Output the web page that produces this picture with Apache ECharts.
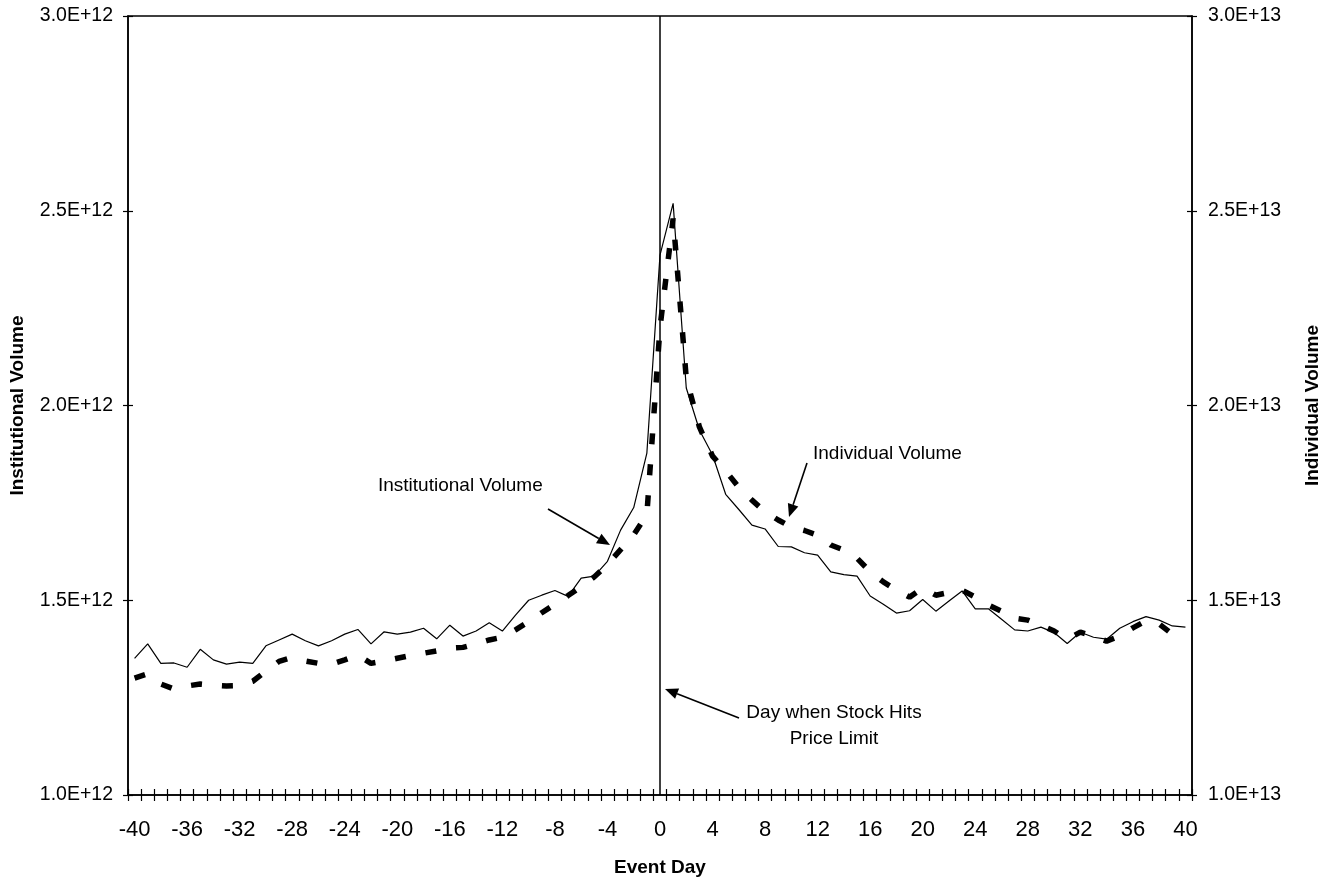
<!DOCTYPE html>
<html>
<head>
<meta charset="utf-8">
<script src="https://cdn.jsdelivr.net/npm/echarts@6/dist/echarts.min.js"></script>
<style>
html,body{margin:0;padding:0;background:#fff;}
#chart{width:1330px;height:884px;}
</style>
</head>
<body>
<div id="chart"></div>
<script>
var eventDays = ['-40','-39','-38','-37','-36','-35','-34','-33','-32','-31','-30','-29','-28','-27','-26','-25','-24','-23','-22','-21','-20','-19','-18','-17','-16','-15','-14','-13','-12','-11','-10','-9','-8','-7','-6','-5','-4','-3','-2','-1','0','1','2','3','4','5','6','7','8','9','10','11','12','13','14','15','16','17','18','19','20','21','22','23','24','25','26','27','28','29','30','31','32','33','34','35','36','37','38','39','40'];

var institutionalVolume = [
1.351e12,1.388e12,1.338e12,1.339e12,1.328e12,1.374e12,1.347e12,1.336e12,1.341e12,1.338e12,
1.383e12,1.398e12,1.413e12,1.396e12,1.383e12,1.396e12,1.413e12,1.425e12,1.388e12,1.419e12,
1.413e12,1.418e12,1.428e12,1.401e12,1.436e12,1.408e12,1.421e12,1.442e12,1.421e12,1.462e12,
1.500e12,1.513e12,1.525e12,1.510e12,1.557e12,1.562e12,1.600e12,1.680e12,1.738e12,1.878e12,
2.386e12,2.519e12,2.045e12,1.937e12,1.873e12,1.772e12,1.733e12,1.693e12,1.683e12,1.638e12,
1.637e12,1.622e12,1.616e12,1.573e12,1.566e12,1.562e12,1.511e12,1.490e12,1.467e12,1.473e12,
1.502e12,1.472e12,1.498e12,1.524e12,1.478e12,1.478e12,1.451e12,1.424e12,1.421e12,1.431e12,
1.417e12,1.389e12,1.418e12,1.405e12,1.400e12,1.428e12,1.445e12,1.458e12,1.449e12,1.434e12,
1.431e12];

var individualVolume = [
1.300e13,1.311e13,1.285e13,1.272e13,1.280e13,1.285e13,1.282e13,1.280e13,1.281e13,1.292e13,
1.318e13,1.343e13,1.353e13,1.344e13,1.338e13,1.336e13,1.347e13,1.359e13,1.338e13,1.344e13,
1.351e13,1.358e13,1.364e13,1.370e13,1.377e13,1.379e13,1.388e13,1.398e13,1.405e13,1.424e13,
1.445e13,1.468e13,1.490e13,1.512e13,1.535e13,1.560e13,1.592e13,1.630e13,1.668e13,1.720e13,
2.200e13,2.480e13,2.070e13,1.945e13,1.870e13,1.832e13,1.790e13,1.757e13,1.727e13,1.706e13,
1.688e13,1.679e13,1.667e13,1.642e13,1.629e13,1.608e13,1.573e13,1.547e13,1.526e13,1.508e13,
1.531e13,1.513e13,1.520e13,1.526e13,1.508e13,1.488e13,1.472e13,1.454e13,1.449e13,1.436e13,
1.421e13,1.400e13,1.418e13,1.408e13,1.395e13,1.408e13,1.429e13,1.447e13,1.439e13,1.413e13,
1.408e13];

var leftAxisMin = 1.0e12, leftAxisMax = 3.0e12, leftAxisStep = 0.5e12;
var rightAxisMin = 1.0e13, rightAxisMax = 3.0e13, rightAxisStep = 0.5e13;
var limitDay = '0';

var FONT = "'Liberation Sans', Arial, sans-serif";

function arrow(x1, y1, x2, y2) {
  var dx = x2 - x1, dy = y2 - y1, len = Math.sqrt(dx*dx + dy*dy);
  var ux = dx/len, uy = dy/len, hl = 13, hw = 5.5;
  var bx = x2 - ux*hl, by = y2 - uy*hl;
  return [
    {type:'line', shape:{x1:x1,y1:y1,x2:bx,y2:by}, style:{stroke:'#000', lineWidth:1.6}, silent:true},
    {type:'polygon', shape:{points:[[x2,y2],[bx - uy*hw, by + ux*hw],[bx + uy*hw, by - ux*hw]]}, style:{fill:'#000'}, silent:true}
  ];
}

var chart = echarts.init(document.getElementById('chart'), null, {renderer:'canvas'});

var axisLineStyle = {show:true, lineStyle:{color:'#000', width:1.5}};
var tickStyle = {color:'#000', width:1.2};

var option = {
  animation:false,
  backgroundColor:'#fff',
  grid:{left:128, right:137, top:16, bottom:89, show:true, borderColor:'#000', borderWidth:1.5, backgroundColor:'transparent'},
  xAxis:[
    {type:'category', data:eventDays, boundaryGap:true, position:'bottom', gridIndex:0,
      name:'Event Day', nameLocation:'middle', nameGap:63,
      nameTextStyle:{fontFamily:FONT, fontSize:19, fontWeight:'bold', color:'#000'},
      axisLine:axisLineStyle, splitLine:{show:false},
      axisTick:{show:false},
      axisLabel:{show:true, interval:3, margin:24, fontFamily:FONT, fontSize:22, color:'#000'}},
    {type:'category', data:eventDays, boundaryGap:true, position:'bottom', gridIndex:0, offset:-6,
      axisLine:{show:false}, splitLine:{show:false},
      axisTick:{show:true, interval:0, inside:false, length:12, lineStyle:tickStyle},
      axisLabel:{show:false}}
  ],
  yAxis:[
    {type:'value', position:'left', min:leftAxisMin, max:leftAxisMax, interval:leftAxisStep,
     name:'Institutional Volume', nameLocation:'middle', nameGap:101, nameRotate:90,
     nameTextStyle:{fontFamily:FONT, fontSize:19, fontWeight:'bold', color:'#000'},
     axisLine:axisLineStyle,
     axisTick:{show:false},
     splitLine:{show:false},
     axisLabel:{margin:15, fontFamily:FONT, fontSize:19.5, color:'#000',
       formatter:function(v){return (v/1e12).toFixed(1)+'E+12';}}},
    {type:'value', position:'right', min:rightAxisMin, max:rightAxisMax, interval:rightAxisStep,
     name:'Individual Volume', nameLocation:'middle', nameGap:111, nameRotate:90,
     nameTextStyle:{fontFamily:FONT, fontSize:19, fontWeight:'bold', color:'#000'},
     axisLine:axisLineStyle,
     axisTick:{show:false},
     splitLine:{show:false},
     axisLabel:{margin:16, fontFamily:FONT, fontSize:19.5, color:'#000',
       formatter:function(v){return (v/1e13).toFixed(1)+'E+13';}}},
    {type:'value', position:'left', min:leftAxisMin, max:leftAxisMax, interval:leftAxisStep, offset:-5,
     axisLine:{show:false}, axisLabel:{show:false}, splitLine:{show:false},
     axisTick:{show:true, inside:false, length:10, lineStyle:tickStyle}},
    {type:'value', position:'right', min:rightAxisMin, max:rightAxisMax, interval:rightAxisStep, offset:-5,
     axisLine:{show:false}, axisLabel:{show:false}, splitLine:{show:false},
     axisTick:{show:true, inside:false, length:10, lineStyle:tickStyle}}
  ],
  series:[
    {name:'Institutional Volume', type:'line', xAxisIndex:0, yAxisIndex:0, data:institutionalVolume,
     symbol:'none', smooth:false, lineStyle:{color:'#000', width:1.2}, z:3,
     markLine:{silent:true, symbol:['none','none'], label:{show:false},
       lineStyle:{color:'#000', width:1.5, type:'solid'},
       data:[{xAxis:limitDay}]}},
    {name:'Individual Volume', type:'line', xAxisIndex:0, yAxisIndex:1, data:individualVolume,
     symbol:'none', smooth:false, z:2,
     lineStyle:{color:'#000', width:5.5, type:[11,20], cap:'butt'}}
  ]
};

chart.setOption(option);

var g = [];
g.push({type:'text', left:378, top:476, style:{text:'Institutional Volume', font:'19px '+FONT, fill:'#000'}, silent:true});
g.push({type:'text', left:813, top:444, style:{text:'Individual Volume', font:'19px '+FONT, fill:'#000'}, silent:true});
g.push({type:'text', x:834, y:700, style:{text:'Day when Stock Hits\nPrice Limit', font:'19px '+FONT, fill:'#000', align:'center', verticalAlign:'top', lineHeight:26}, silent:true});
g = g.concat(arrow(548,509,610,545), arrow(807,463,789,517), arrow(739,718,665,689));
chart.setOption({graphic:g});
</script>
</body>
</html>
